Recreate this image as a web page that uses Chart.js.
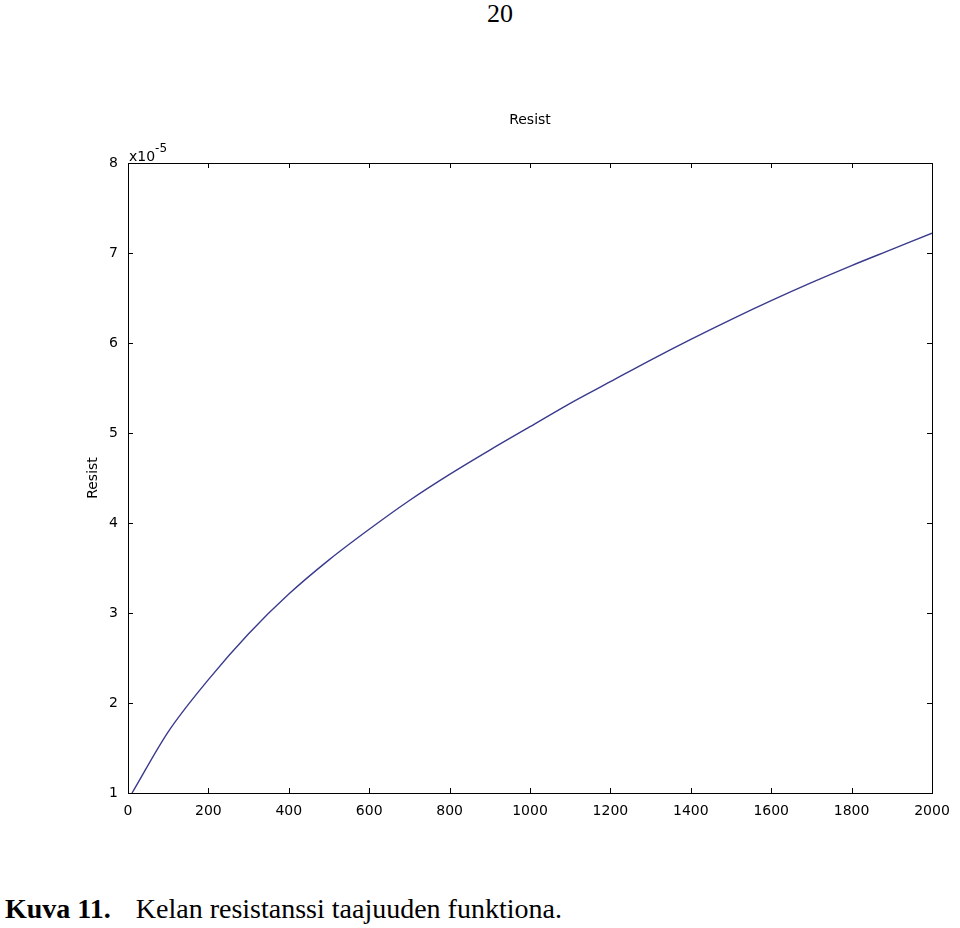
<!DOCTYPE html>
<html>
<head>
<meta charset="utf-8">
<script src="https://cdn.jsdelivr.net/npm/chart.js@4/dist/chart.umd.min.js"></script>
<style>
  body { margin: 0; background: #fff; width: 960px; height: 928px; position: relative; overflow: hidden; }
  #sivu { position: absolute; left: 0; top: 1px; width: 960px; text-align: center; padding-left: 40px; box-sizing: border-box;
          font-family: "Liberation Serif", "DejaVu Serif", serif; font-size: 26px; line-height: 26px; color: #000; }
  #kuva { position: absolute; left: 0; top: 0; width: 960px; height: 860px; }
  #kuvateksti { position: absolute; left: 5px; top: 895px; font-family: "Liberation Serif", serif; font-size: 28px;
                line-height: 28px; color: #000; white-space: nowrap; }
  #kuvateksti b { margin-right: 25px; }
</style>
</head>
<body>
<div id="sivu">20</div>
<div id="kuva"><canvas id="graafi" width="960" height="860"></canvas></div>
<div id="kuvateksti"><b>Kuva 11.</b>Kelan resistanssi taajuuden funktiona.</div>

<script>
// Taajuus (x-akseli) ja resistanssi yksikössä x10^-5 (luettu kuvasta)
const taajuus = [10, 100, 200, 300, 400, 500, 600, 700, 800, 900, 1000,
                 1100, 1200, 1300, 1400, 1500, 1600, 1700, 1800, 1900, 2000];
const resist = [1.00, 1.68, 2.26, 2.77, 3.21, 3.59, 3.93, 4.25, 4.54, 4.81, 5.07,
                5.33, 5.57, 5.81, 6.04, 6.26, 6.47, 6.67, 6.86, 7.04, 7.22];
const xTikit = [0, 200, 400, 600, 800, 1000, 1200, 1400, 1600, 1800, 2000];
const yTikit = [1, 2, 3, 4, 5, 6, 7, 8];
const otsikko = 'Resist';

const pisteet = [];
for (let i = 0; i < taajuus.length; i++) {
    pisteet.push({ x: taajuus[i], y: resist[i] });
}

const fontti = { family: "DejaVu Sans", size: 14 };

// Kehys, sisäänpäin osoittavat tikit, otsikko ja x10^-5 merkintä
const kehys = {
    id: 'kehys',
    afterDraw(chart) {
        const ctx = chart.ctx;
        const a = chart.chartArea;
        const sx = chart.scales.x, sy = chart.scales.y;
        ctx.save();
        ctx.strokeStyle = '#000';
        ctx.lineWidth = 1;
        ctx.strokeRect(Math.round(a.left) + 0.5, Math.round(a.top) + 0.5,
                       Math.round(a.right - a.left), Math.round(a.bottom - a.top));
        ctx.beginPath();
        xTikit.forEach(function (v) {
            const px = Math.round(sx.getPixelForValue(v)) + 0.5;
            ctx.moveTo(px, a.bottom); ctx.lineTo(px, a.bottom - 5);
            ctx.moveTo(px, a.top); ctx.lineTo(px, a.top + 5);
        });
        yTikit.forEach(function (v) {
            const py = Math.round(sy.getPixelForValue(v)) + 0.5;
            ctx.moveTo(a.left, py); ctx.lineTo(a.left + 5, py);
            ctx.moveTo(a.right, py); ctx.lineTo(a.right - 5, py);
        });
        ctx.stroke();

        ctx.fillStyle = '#000';
        // otsikko kuvaajan keskelle
        ctx.font = '14px "DejaVu Sans"';
        ctx.textAlign = 'center';
        ctx.textBaseline = 'middle';
        ctx.fillText(otsikko, (a.left + a.right) / 2, 120);

        ctx.textBaseline = 'alphabetic';
        ctx.textAlign = 'left';
        ctx.fillText('x10', a.left + 1, a.top - 2);
        const w = ctx.measureText('x10').width;
        ctx.font = '12px "DejaVu Sans"';
        ctx.fillText('-5', a.left + 1 + w, a.top - 11);
        ctx.restore();
    }
};

const config = {
    type: 'line',
    data: {
        datasets: [{
            label: 'Resist',
            data: pisteet,
            borderColor: '#3a3a8e',
            borderWidth: 1.4,
            pointRadius: 0,
            cubicInterpolationMode: 'monotone',
            fill: false
        }]
    },
    options: {
        responsive: false,
        animation: false,
        layout: { padding: { top: 163, left: 80, right: 28, bottom: 27 } },
        plugins: {
            legend: { display: false },
            tooltip: { enabled: false },
            title: { display: false }
        },
        scales: {
            x: {
                type: 'linear',
                min: 0, max: 2000,
                grid: { display: false, drawTicks: false },
                border: { display: false },
                ticks: {
                    stepSize: 200, color: '#000', font: fontti, padding: 10, maxRotation: 0,
                    callback: function (v) { return String(v); }
                },
                afterFit: function (scale) { scale.height = 40; }
            },
            y: {
                min: 1, max: 8,
                grid: { display: false, drawTicks: false },
                border: { display: false },
                ticks: {
                    stepSize: 1, color: '#000', font: fontti, padding: 10,
                    callback: function (v) { return String(v); }
                },
                title: {
                    display: true,
                    text: 'Resist',
                    color: '#000',
                    font: { family: "DejaVu Sans", size: 14 },
                    padding: { top: 5, bottom: 0 }
                },
                afterFit: function (scale) { scale.width = 48; }
            }
        }
    },
    plugins: [kehys]
};

new Chart(document.getElementById('graafi'), config);
</script>
</body>
</html>
